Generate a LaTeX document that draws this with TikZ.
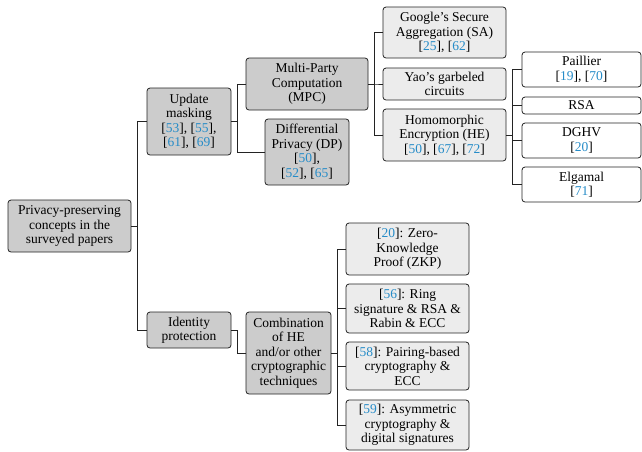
\documentclass[tikz,border=0pt]{standalone}
\usepackage{fontspec}
\setmainfont{Liberation Serif}
\usepackage{xcolor}
\definecolor{citeblue}{RGB}{38,140,200}
\definecolor{darkfill}{RGB}{204,204,204}
\definecolor{lightfill}{RGB}{236,236,236}
\definecolor{edgecol}{RGB}{35,35,35}
\newcommand\rf[1]{[\textcolor{citeblue}{#1}]}
\tikzset{
  box/.style={draw=edgecol, line width=0.8pt, rounded corners=3pt, align=center,
    inner sep=0pt, font=\fontsize{13.5}{14.5}\selectfont},
  dk/.style={box, fill=darkfill},
  lt/.style={box, fill=lightfill},
  wt/.style={box, fill=white},
  wh/.style 2 args={minimum width=#1pt, minimum height=#2pt},
  link/.style={draw=edgecol, line width=0.8pt}
}
\begin{document}
\begin{tikzpicture}[x=1pt,y=-1pt]
\useasboundingbox (0,0) rectangle (642,451);
% level 0
\node[dk, wh={123}{52}] (root) at (69.5,226) {Privacy-preserving\\concepts in the\\surveyed papers};
% level 1
\node[dk, wh={84}{67}] (upd) at (189,121.5) {Update\\masking\\\rf{53}, \rf{55},\\\rf{61}, \rf{69}};
\node[dk, wh={84}{36}] (idp) at (189,330) {Identity\\protection};
% level 2
\node[dk, wh={122}{52}] (mpc) at (307,84) {Multi-Party\\Computation\\(MPC)};
\node[dk, wh={84}{66}] (dp) at (307,152) {Differential\\Privacy (DP)\\\rf{50},\\\rf{52}, \rf{65}};
\node[dk, wh={85}{82}] (comb) at (288.5,353) {Combination\\of HE\\and/or other\\cryptographic\\techniques};
% level 3
\node[lt, wh={123}{51}] (sa) at (444.5,32.5) {Google’s Secure\\Aggregation (SA)\\\rf{25}, \rf{62}};
\node[lt, wh={123}{32}] (yao) at (444.5,84) {Yao’s garbeled\\circuits};
\node[lt, wh={123}{52}] (he) at (444.5,135) {Homomorphic\\Encryption (HE)\\\rf{50}, \rf{67}, \rf{72}};
\node[lt, wh={123}{52}] (zkp) at (407.5,249) {\rf{20}: Zero-\\Knowledge\\Proof (ZKP)};
\node[lt, wh={123}{49}] (ring) at (407.5,308.5) {\rf{56}: Ring\\signature \& RSA \&\\Rabin \& ECC};
\node[lt, wh={123}{48}] (pair) at (407.5,366) {\rf{58}: Pairing-based\\cryptography \&\\ECC};
\node[lt, wh={123}{50}] (asym) at (407.5,425) {\rf{59}: Asymmetric\\cryptography \&\\digital signatures};
% level 4
\node[wt, wh={119}{35}] (pai) at (581.5,69.5) {Paillier\\\rf{19}, \rf{70}};
\node[wt, wh={119}{17}] (rsa) at (581.5,105.5) {RSA};
\node[wt, wh={119}{35}] (dghv) at (581.5,140.5) {DGHV\\\rf{20}};
\node[wt, wh={119}{35}] (elg) at (581.5,184.5) {Elgamal\\\rf{71}};
% connectors
\foreach \p/\c in {root/upd, root/idp, upd/mpc, upd/dp, idp/comb,
  mpc/sa, mpc/yao, mpc/he, he/pai, he/rsa, he/dghv, he/elg,
  comb/zkp, comb/ring, comb/pair, comb/asym}
  \draw[link] (\p.east) -- ++(6,0) |- (\c.west);
\end{tikzpicture}
\end{document}
